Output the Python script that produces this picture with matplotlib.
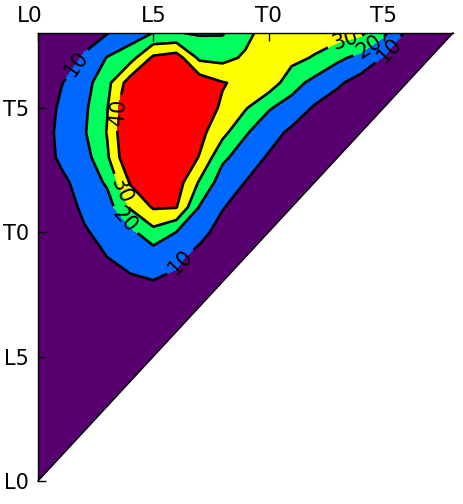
import numpy as np
import matplotlib
matplotlib.use("Agg")
import matplotlib.pyplot as plt
from matplotlib.patches import Polygon
from matplotlib.transforms import ScaledTranslation

plt.rcParams['font.family'] = ['DejaVu Sans']

# spectral type grid (L0=0, L5=5, T0=10, T5=15)
x_types = np.arange(19)
y_types = np.arange(19)
tick_pos = [0, 5, 10, 15]
tick_labels = ['L0', 'L5', 'T0', 'T5']
levels = [10, 20, 30, 40]

# values, one row per y (0..18), columns x = 0..18
row_00 = [1, 1, 1, 1, 1, 1, 1, 1, 1, 1, 1, 1, 1, 1, 1, 1, 1, 1, 1]
row_01 = [1, 1, 1, 1.5, 2, 2, 1.5, 1, 1, 1, 1, 1, 1, 1, 1, 1, 1, 1, 1]
row_02 = [1, 1, 1.5, 2, 2.5, 2.5, 2, 1.5, 1, 1, 1, 1, 1, 1, 1, 1, 1, 1, 1]
row_03 = [1, 1.5, 2, 2.5, 3, 3, 2.5, 2, 1.5, 1, 1, 1, 1, 1, 1, 1, 1, 1, 1]
row_04 = [1.5, 1.5, 2, 3, 3.5, 3.5, 3, 2.5, 2, 1.5, 1, 1, 1, 1, 1, 1, 1, 1, 1]
row_05 = [1.5, 2, 2.5, 3.5, 4, 4.5, 4, 3, 2, 1.5, 1, 1, 1, 1, 1, 1, 1, 1, 1]
row_06 = [2, 2, 3, 4, 5, 5.5, 5, 4, 3, 2, 1.5, 1, 1, 1, 1, 1, 1, 1, 1]
row_07 = [2, 2.5, 3.5, 4.5, 6, 6.5, 6, 4.5, 3, 2, 1.5, 1, 1, 1, 1, 1, 1, 1, 1]
row_08 = [2, 3, 4.5, 6.5, 8.5, 9.7, 8.5, 6, 4, 2.5, 2, 1.5, 1, 1, 1, 1, 1, 1, 1]
row_09 = [2.5, 4, 6.5, 10, 13, 14, 11.5, 7.5, 5, 3, 2, 1.5, 1, 1, 1, 1, 1, 1, 1]
row_10 = [3, 5, 9.2, 12.5, 17.5, 27, 20, 12.5, 7, 5, 3, 2, 2, 2, 2, 2, 2, 2, 2]
row_11 = [3, 6, 11.5, 15.5, 31, 41, 40.5, 19.5, 10.5, 6, 4, 3, 2, 2, 2, 2, 2, 2, 2]
row_12 = [4, 8, 13.5, 21.5, 41, 47, 45, 29, 15, 9.8, 6, 4, 2.5, 2, 2, 2, 2, 2, 2]
row_13 = [5, 11.5, 16, 28.5, 50, 52, 48, 39.5, 22, 15, 9, 5, 3, 2, 2, 2, 2, 2, 2]
row_14 = [5, 12.3, 19, 30.5, 52, 53, 51, 43, 33, 21, 14, 8, 5, 3, 2, 2, 2, 2, 2]
row_15 = [4, 11.5, 18, 29.5, 51, 52, 51, 44, 39, 31, 21, 16, 9, 5, 3, 2, 2, 2, 2]
row_16 = [2, 9.5, 16, 27, 45, 48, 48, 46, 40.5, 38, 36, 24, 17, 11.5, 6, 4, 3, 2, 2]
row_17 = [2, 2.1, 11.4, 20.5, 26, 42, 45, 28, 27, 31.5, 35, 33, 29, 22, 17, 9.2, 5, 3, 2]
row_18 = [2, 3, 5, 9.5, 14.7, 20.2, 20.5, 19, 19.2, 27, 35, 36, 36, 35, 32, 22, 8, 3, 2]

Z = np.array([row_00, row_01, row_02, row_03, row_04, row_05, row_06, row_07,
              row_08, row_09, row_10, row_11, row_12, row_13, row_14, row_15,
              row_16, row_17, row_18], dtype=float)

fill_colors = ['#58006f', '#0068ff', '#00ff5c', '#ffff00', '#ff0000']

fig = plt.figure(figsize=(4.63, 5.04), dpi=100)
ax = fig.add_axes([38 / 463, 23 / 504, 415 / 463, 448 / 504])

X, Y = np.meshgrid(x_types, y_types)
cf = ax.contourf(X, Y, Z, levels=[0] + levels + [100], colors=fill_colors)
cl = ax.contour(X, Y, Z, levels=levels, colors='black', linewidths=1.9)

tri = Polygon([(0, 0), (0, 18), (18, 18)], closed=True, transform=ax.transData,
              facecolor='none', edgecolor='none')
ax.add_patch(tri)
cf.set_clip_path(tri)
cl.set_clip_path(tri)

label_pos = [(1.6, 16.8), (6.0, 8.9), (15.35, 17.2), (3.8, 10.5), (14.4, 17.4),
             (3.7, 11.7), (13.3, 17.7), (3.45, 14.8)]
ax.clabel(cl, levels=levels, manual=label_pos, inline=True, fontsize=15, fmt='%d',
          colors='black')
for t in cl.labelTexts:
    t.set_clip_path(tri)

# triangle edges
ax.plot([0, 18], [0, 18], color='black', lw=1.0, clip_on=False)
ax.spines['bottom'].set_visible(False)
ax.spines['right'].set_visible(False)
ax.spines['left'].set_linewidth(1.0)
ax.spines['top'].set_linewidth(1.0)

ax.set_xlim(0, 18)
ax.set_ylim(0, 18)
ax.xaxis.tick_top()
ax.set_xticks(tick_pos)
ax.set_xticklabels(tick_labels, fontsize=15.5)
ax.set_yticks(tick_pos)
ax.set_yticklabels(tick_labels, fontsize=15)
ax.tick_params(axis='both', direction='in', length=6, width=1, colors='black')
ax.tick_params(axis='x', pad=5)
ax.tick_params(axis='y', pad=6.5)
ax.set_facecolor('white')

lab0 = ax.get_xticklabels()[0]
lab0.set_transform(lab0.get_transform() + ScaledTranslation(-8 / 100, 0, fig.dpi_scale_trans))

fig.savefig('out.png', dpi=100)
